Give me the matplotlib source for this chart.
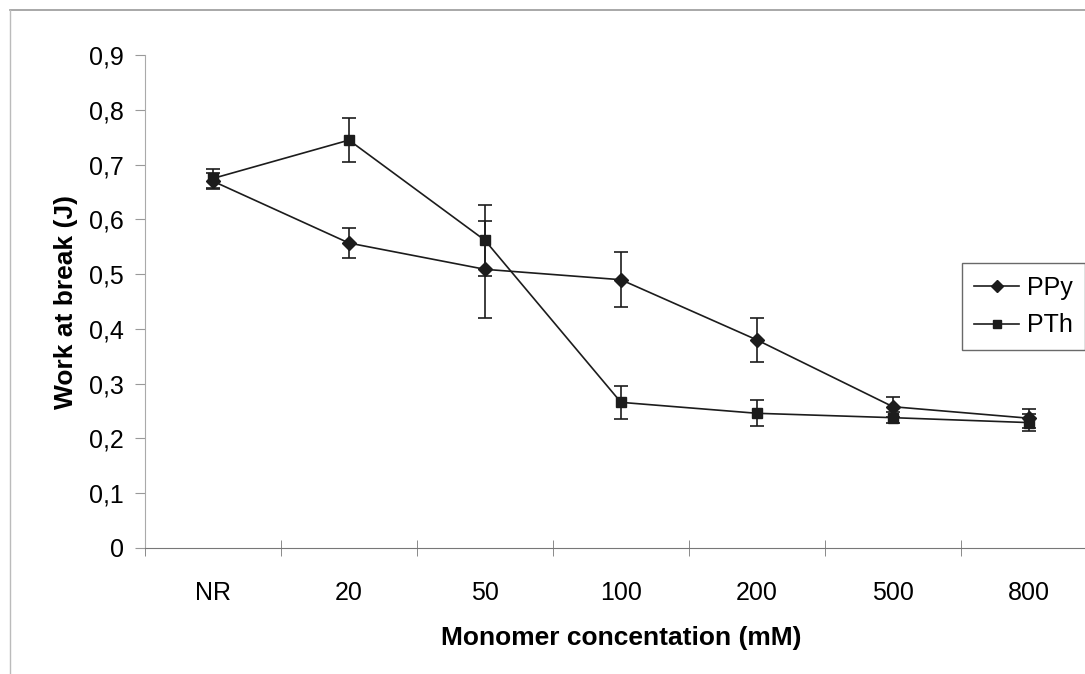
import matplotlib.pyplot as plt
from matplotlib.lines import Line2D
from matplotlib.ticker import FuncFormatter, FixedLocator
import numpy as np

plt.rcParams['font.family'] = ['Liberation Sans', 'DejaVu Sans']

categories = ['NR', '20', '50', '100', '200', '500', '800']

ppy = [0.670, 0.557, 0.509, 0.490, 0.380, 0.258, 0.237]
ppy_err = [0.015, 0.028, 0.089, 0.050, 0.040, 0.018, 0.017]

pth = [0.675, 0.745, 0.562, 0.266, 0.246, 0.238, 0.229]
pth_err = [0.018, 0.040, 0.065, 0.030, 0.024, 0.010, 0.015]

y_ticks = [0, 0.1, 0.2, 0.3, 0.4, 0.5, 0.6, 0.7, 0.8, 0.9]

fig = plt.figure(figsize=(10.85, 6.74), dpi=100)
ax = fig.add_axes([0.1336, 0.187, 0.8774, 0.731])

x = np.arange(len(categories))
col = '#1c1c1c'

ax.errorbar(x, ppy, yerr=ppy_err, color=col, marker='D', markersize=7,
            linewidth=1.2, elinewidth=1.2, capsize=5, capthick=1.2)
ax.errorbar(x, pth, yerr=pth_err, color=col, marker='s', markersize=7,
            linewidth=1.2, elinewidth=1.2, capsize=5, capthick=1.2)

ax.set_xlim(-0.5, len(categories) - 0.5)
ax.set_ylim(0, 0.9)

ax.set_xticks(x)
ax.set_xticklabels(categories, fontsize=18)
ax.xaxis.set_minor_locator(FixedLocator(np.arange(-0.5, len(categories), 1.0)))
ax.tick_params(axis='x', which='major', length=0, pad=24)
ax.tick_params(axis='x', which='minor', length=12, direction='inout', color='#777777')

ax.set_yticks(y_ticks)
ax.yaxis.set_major_formatter(FuncFormatter(lambda v, p: '0' if v == 0 else ('%.1f' % v).replace('.', ',')))
ax.tick_params(axis='y', labelsize=18, length=7, direction='out', color='#999999', pad=8)

for s in ['top', 'right']:
    ax.spines[s].set_visible(False)
ax.spines['left'].set_color('#aaaaaa')
ax.spines['bottom'].set_color('#777777')

ax.set_xlabel('Monomer concentation (mM)', fontsize=19, fontweight='bold', labelpad=15)
ax.set_ylabel('Work at break (J)', fontsize=19, fontweight='bold', labelpad=8)

handles = [Line2D([], [], color=col, marker='D', markersize=6, linewidth=1.2),
           Line2D([], [], color=col, marker='s', markersize=6, linewidth=1.2)]
leg = ax.legend(handles, ['PPy', 'PTh'], loc='upper left', bbox_to_anchor=(0.858, 0.578),
                fontsize=18, frameon=True, fancybox=False, handlelength=1.8,
                borderpad=0.5, labelspacing=0.55, handletextpad=0.3, borderaxespad=0)
leg.get_frame().set_edgecolor('#444444')
leg.get_frame().set_linewidth(1.0)

# outer chart frame (top and left edges visible in the scan)
fig.add_artist(Line2D([0.009, 1.0], [0.985, 0.985], color='#999999', linewidth=1.2))
fig.add_artist(Line2D([0.009, 0.009], [0.0, 0.985], color='#bbbbbb', linewidth=1.0))

fig.savefig('out.png', dpi=100)
